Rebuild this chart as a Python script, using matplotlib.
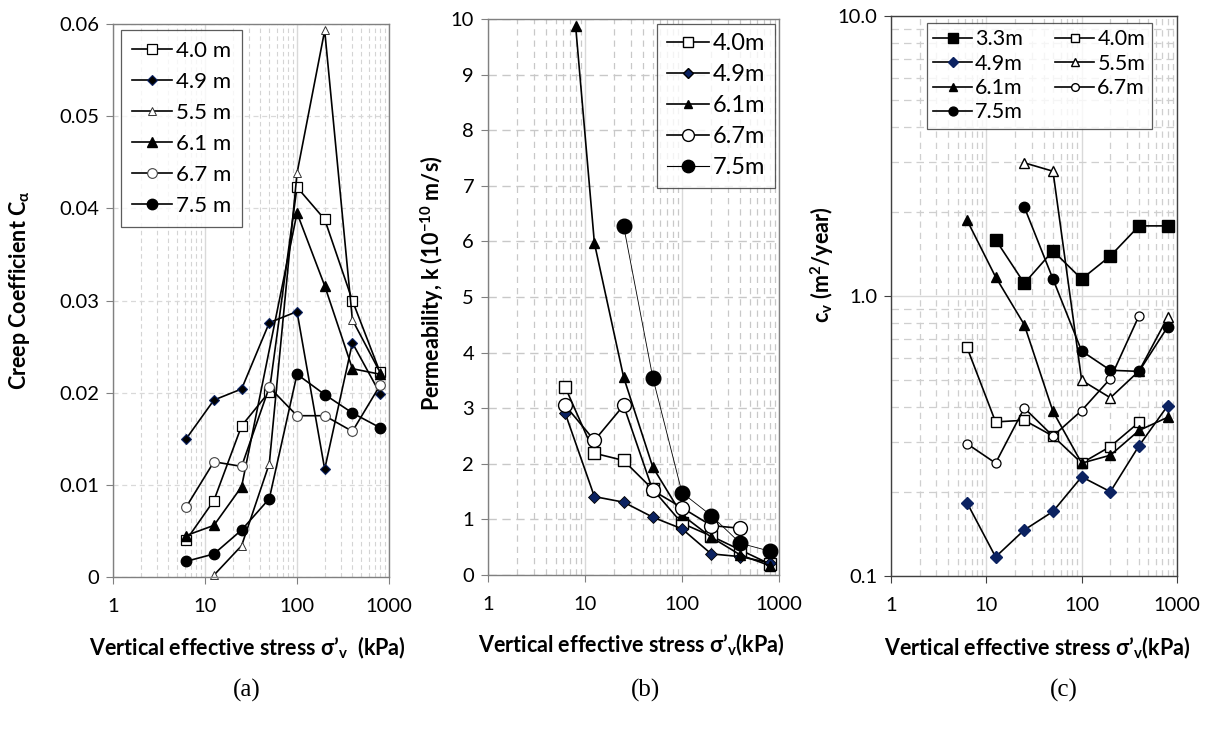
import matplotlib
matplotlib.use("Agg")
import matplotlib.pyplot as plt
from matplotlib.ticker import FixedLocator, LogLocator, NullFormatter, FixedFormatter
from matplotlib.lines import Line2D

plt.rcParams['font.family'] = ['Lato', 'DejaVu Sans']
plt.rcParams['mathtext.fontset'] = 'custom'
plt.rcParams['mathtext.rm'] = 'Lato'
plt.rcParams['mathtext.it'] = 'Lato:italic'
plt.rcParams['mathtext.bf'] = 'Lato:bold'

# ---------------- data ----------------
stress = [6.25, 12.5, 25, 50, 100, 200, 400, 800]
stress_k61 = [8, 12.5, 25, 50, 100, 200, 400, 800]

# (a) creep coefficient
ca_40 = [0.0040, 0.0083, 0.0164, 0.0201, 0.0423, 0.0388, 0.0300, 0.0222]
ca_49 = [0.0150, 0.0192, 0.0204, 0.0276, 0.0288, 0.0117, 0.0254, 0.0199]
ca_55 = [None, 0.0002, 0.0034, 0.0123, 0.0438, 0.0593, 0.0279, 0.0222]
ca_61 = [0.0045, 0.0056, 0.0098, None, 0.0395, 0.0316, 0.0226, 0.0220]
ca_67 = [0.0076, 0.0125, 0.0120, 0.0206, 0.0175, 0.0175, 0.0158, 0.0208]
ca_75 = [0.0017, 0.0025, 0.0051, 0.0085, 0.0220, 0.0198, 0.0178, 0.0162]
labels_a = ["4.0 m", "4.9 m", "5.5 m", "6.1 m", "6.7 m", "7.5 m"]

# (b) permeability (1e-10 m/s)
k_40 = [3.38, 2.19, 2.06, 1.54, 0.93, 0.70, 0.45, 0.20]
k_49 = [2.91, 1.41, 1.31, 1.04, 0.83, 0.38, 0.33, 0.22]
k_61 = [9.88, 5.97, 3.56, 1.94, 1.08, 0.68, 0.36, 0.17]
k_67 = [3.05, 2.42, 3.05, 1.52, 1.21, 0.89, 0.84, None]
k_75 = [None, None, 6.28, 3.55, 1.48, 1.07, 0.57, 0.43]
labels_b = ["4.0m", "4.9m", "6.1m", "6.7m", "7.5m"]

# (c) coefficient of consolidation (m2/year)
cv_33 = [None, 1.59, 1.11, 1.45, 1.15, 1.39, 1.78, 1.78]
cv_40 = [0.657, 0.355, 0.36, 0.316, 0.253, 0.29, 0.354, None]
cv_49 = [0.183, 0.117, 0.146, 0.170, 0.226, 0.200, 0.292, 0.406]
cv_55 = [None, None, 2.99, 2.79, 0.50, 0.433, 0.54, 0.84]
cv_61 = [1.87, 1.17, 0.79, 0.387, 0.253, 0.27, 0.331, 0.369]
cv_67 = [0.297, 0.253, 0.398, 0.316, 0.39, 0.507, 0.851, None]
cv_75 = [None, None, 2.08, 1.15, 0.636, 0.543, 0.538, 0.777]
labels_c = ["3.3m", "4.0m", "4.9m", "5.5m", "6.1m", "6.7m", "7.5m"]

x_ticks = [1, 10, 100, 1000]
x_ticklabels = ["1", "10", "100", "1000"]

NAVY = '#0b2261'
TICK_FS = 14.5
LABEL_FS = 15.5


def pts(xs, ys):
    xx = [a for a, b in zip(xs, ys) if b is not None]
    yy = [b for b in ys if b is not None]
    return xx, yy


def style_axes(ax, spine_col):
    ax.set_xscale('log')
    ax.set_xlim(1, 1000)
    ax.xaxis.set_major_locator(FixedLocator(x_ticks))
    ax.xaxis.set_major_formatter(FixedFormatter(x_ticklabels))
    ax.xaxis.set_minor_locator(LogLocator(base=10, subs=range(2, 10)))
    ax.xaxis.set_minor_formatter(NullFormatter())
    for s in ax.spines.values():
        s.set_color(spine_col)
        s.set_linewidth(1.0)
    ax.tick_params(axis='both', which='major', direction='out', length=5,
                   color=spine_col, labelsize=TICK_FS, pad=5)
    ax.tick_params(axis='both', which='minor', length=0)
    ax.tick_params(axis='x', which='major', pad=10)
    ax.grid(True, which='major', axis='x', color='#d9d9d9', lw=1.0, ls='-')
    ax.grid(True, which='minor', axis='x', color='#d4d4d4', lw=0.8, ls=(0, (4, 3)))
    ax.set_axisbelow(True)


fig = plt.figure(figsize=(12.07, 7.38), dpi=100)

# ---------------- (a) ----------------
axa = fig.add_axes([113/1207, 1-577/738, 276/1207, 553/738])
style_axes(axa, '#808080')
axa.set_ylim(0, 0.06)
axa.yaxis.set_major_locator(FixedLocator([0, 0.01, 0.02, 0.03, 0.04, 0.05, 0.06]))
axa.yaxis.set_major_formatter(FixedFormatter(["0", "0.01", "0.02", "0.03", "0.04", "0.05", "0.06"]))
axa.grid(True, which='major', axis='y', color='#d9d9d9', lw=0.9, ls=(0, (4, 3)))

lw = 1.2
specs_a = [
    (ca_40, dict(marker='s', ms=6.5, mfc='white', mec='black', mew=0.9)),
    (ca_49, dict(marker='D', ms=5, mfc='black', mec=NAVY, mew=0.8)),
    (ca_55, dict(marker='^', ms=5.5, mfc='white', mec='#333333', mew=0.7)),
    (ca_61, dict(marker='^', ms=6.5, mfc='black', mec='black')),
    (ca_67, dict(marker='o', ms=7, mfc='white', mec='#444444', mew=0.8)),
    (ca_75, dict(marker='o', ms=7.5, mfc='black', mec='black')),
]
handles = []
for (ys, mk), lab in zip(specs_a, labels_a):
    xx, yy = pts(stress, ys)
    h, = axa.plot(xx, yy, color='black', lw=lw, label=lab, clip_on=False, **mk)
    handles.append(h)
leg = axa.legend(handles=handles, loc='upper left', bbox_to_anchor=(0.03, 0.99),
                 fontsize=16, frameon=True, fancybox=False, edgecolor='#333333',
                 handlelength=1.8, handletextpad=0.15, labelspacing=0.5,
                 borderpad=0.5, borderaxespad=0.0)
leg.get_frame().set_linewidth(0.9)

fig.text(20/1207, 1-290/738, r'Creep Coefficient C$_\mathbf{\alpha}$', rotation=90,
         ha='center', va='center', fontsize=LABEL_FS, fontweight='bold')
fig.text(247/1207, 1-648/738, r"Vertical effective stress σ’$_\mathbf{v}$  (kPa)",
         ha='center', va='center', fontsize=LABEL_FS, fontweight='bold')

# ---------------- (b) ----------------
axb = fig.add_axes([488/1207, 1-575/738, 291/1207, 556/738])
style_axes(axb, '#808080')
axb.grid(True, which='minor', axis='x', color='#c8c8c8', lw=0.9, ls=(0, (5, 4)))
axb.set_ylim(0, 10)
axb.yaxis.set_major_locator(FixedLocator(list(range(0, 11))))
axb.yaxis.set_major_formatter(FixedFormatter([str(i) for i in range(0, 11)]))
axb.grid(True, which='major', axis='y', color='#c8c8c8', lw=1.0, ls=(0, (6, 4)))

specs_b = [
    (stress, k_40, lw, dict(marker='s', ms=9, mfc='white', mec='black', mew=1.0)),
    (stress, k_49, lw, dict(marker='D', ms=6, mfc=NAVY, mec='black', mew=0.6)),
    (stress_k61, k_61, lw, dict(marker='^', ms=7, mfc='black', mec='black')),
    (stress, k_67, lw, dict(marker='o', ms=10, mfc='white', mec='black', mew=1.0)),
    (stress, k_75, 0.6, dict(marker='o', ms=10.5, mfc='black', mec='black')),
]
handles = []
for (xs, ys, lwi, mk), lab in zip(specs_b, labels_b):
    xx, yy = pts(xs, ys)
    h, = axb.plot(xx, yy, color='black', lw=lwi, label=lab, clip_on=False, **mk)
    handles.append(h)
hl = []
for h in handles:
    hl.append(Line2D([], [], color='black', lw=h.get_linewidth() if h.get_linewidth() > 1 else 0.8,
                     marker=h.get_marker(), ms=h.get_markersize() * 0.85,
                     mfc=h.get_markerfacecolor(), mec=h.get_markeredgecolor()))
leg = axb.legend(hl, labels_b, loc='upper right', bbox_to_anchor=(0.985, 0.991),
                 fontsize=17, frameon=True, fancybox=False, edgecolor='#333333',
                 handlelength=1.8, handletextpad=0.15, labelspacing=0.42,
                 borderpad=0.4, borderaxespad=0.0)
leg.get_frame().set_linewidth(0.9)

fig.text(432/1207, 1-283/738, r'Permeability, k (10$^\mathbf{-10}$ m/s)', rotation=90,
         ha='center', va='center', fontsize=LABEL_FS, fontweight='bold')
fig.text(631/1207, 1-645/738, r"Vertical effective stress σ’$_\mathbf{v}$(kPa)",
         ha='center', va='center', fontsize=LABEL_FS, fontweight='bold')

# ---------------- (c) ----------------
axc = fig.add_axes([891/1207, 1-576/738, 286/1207, 560/738])
style_axes(axc, '#404040')
axc.set_yscale('log')
axc.set_ylim(0.1, 10)
axc.yaxis.set_major_locator(FixedLocator([0.1, 1, 10]))
axc.yaxis.set_major_formatter(FixedFormatter(["0.1", "1.0", "10.0"]))
axc.yaxis.set_minor_locator(LogLocator(base=10, subs=range(2, 10)))
axc.yaxis.set_minor_formatter(NullFormatter())
axc.tick_params(axis='both', which='minor', length=0)
axc.grid(True, which='major', axis='y', color='#d9d9d9', lw=1.0, ls='-')
axc.grid(True, which='minor', axis='y', color='#cfcfcf', lw=0.9, ls=(0, (6, 4)))
axc.grid(True, which='minor', axis='x', color='#cfcfcf', lw=0.9, ls=(0, (5, 4)))

specs_c = [
    (cv_33, dict(marker='s', ms=8, mfc='black', mec='black')),
    (cv_40, dict(marker='s', ms=7, mfc='white', mec='black', mew=1.0)),
    (cv_49, dict(marker='D', ms=6.5, mfc=NAVY, mec=NAVY)),
    (cv_55, dict(marker='^', ms=7, mfc='white', mec='black', mew=1.0)),
    (cv_61, dict(marker='^', ms=7, mfc='black', mec='black')),
    (cv_67, dict(marker='o', ms=6.5, mfc='white', mec='black', mew=0.9)),
    (cv_75, dict(marker='o', ms=7.5, mfc='black', mec='black')),
]
handles = []
for (ys, mk), lab in zip(specs_c, labels_c):
    xx, yy = pts(stress, ys)
    h, = axc.plot(xx, yy, color='black', lw=lw, label=lab, clip_on=False, **mk)
    handles.append(h)
order = [0, 2, 4, 6, 1, 3, 5]
hl = [Line2D([], [], color='black', lw=lw, marker=handles[i].get_marker(),
             ms=handles[i].get_markersize() * 0.85,
             mfc=handles[i].get_markerfacecolor(), mec=handles[i].get_markeredgecolor())
      for i in order]
leg = axc.legend(hl, [labels_c[i] for i in order], loc='upper left',
                 bbox_to_anchor=(0.125, 0.9875), ncol=2,
                 fontsize=15.5, frameon=True, fancybox=False, edgecolor='#333333',
                 handlelength=1.8, handletextpad=0.15, labelspacing=0.2,
                 columnspacing=1.5, borderpad=0.3, borderaxespad=0.0)
leg.get_frame().set_linewidth(0.9)

fig.text(822/1207, 1-265/738, r'c$_\mathbf{v}$ (m$^\mathbf{2}$/year)', rotation=90,
         ha='center', va='center', fontsize=LABEL_FS, fontweight='bold')
fig.text(1037/1207, 1-648/738, r"Vertical effective stress σ’$_\mathbf{v}$(kPa)",
         ha='center', va='center', fontsize=LABEL_FS, fontweight='bold')

# ---------------- captions ----------------
for xc, t in [(247, '(a)'), (645, '(b)'), (1064, '(c)')]:
    fig.text(xc/1207, 1-690/738, t, ha='center', va='center', fontsize=18,
             family='Liberation Serif')

fig.savefig('out.png', dpi=100, facecolor='white')
